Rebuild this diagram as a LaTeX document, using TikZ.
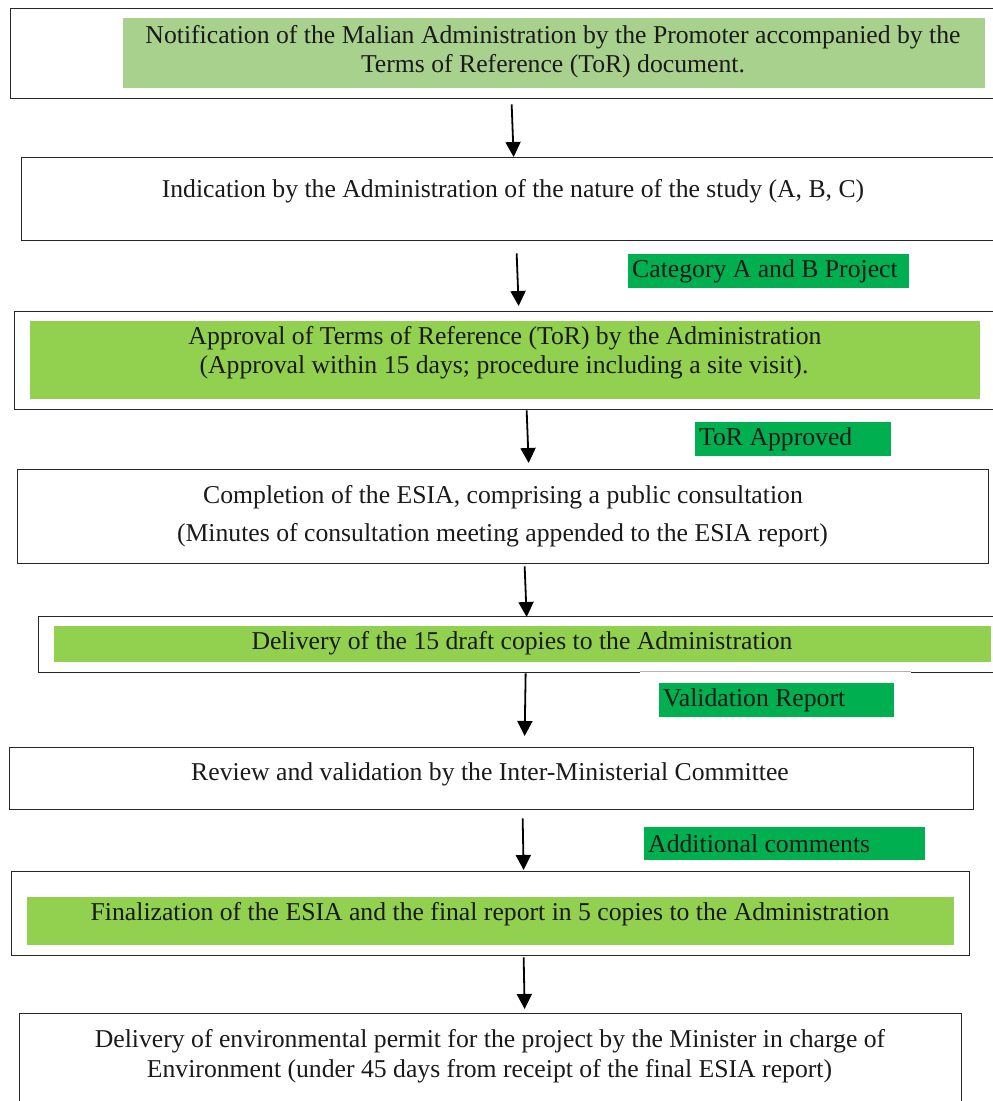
\documentclass[tikz,border=0pt]{standalone}
\usepackage{fontspec}
\setmainfont{Liberation Serif}
\usetikzlibrary{arrows.meta}
\definecolor{lgreen}{HTML}{A9D18E}
\definecolor{mgreen}{HTML}{92D050}
\definecolor{dgreen}{HTML}{00B050}
\definecolor{txt}{HTML}{1A1A1A}
\begin{document}
\begin{tikzpicture}[x=1pt,y=-1pt,
  boxnode/.style={draw=black!85,line width=1.3pt,fill=white,anchor=north west,inner sep=0pt},
  fillnode/.style={anchor=north west,inner sep=0pt},
  txtline/.style={anchor=base,inner sep=0pt,text=txt,font=\fontsize{25.7}{30}\selectfont},
  tag/.style={fill=dgreen,anchor=north west,inner sep=0pt,text=txt,font=\fontsize{25.7}{30}\selectfont},
  arr/.style={line width=1.8pt,-{Triangle[width=15pt,length=15pt]}}]
\useasboundingbox (0,0) rectangle (993,1101);
\fill[white] (0,0) rectangle (993,1101);
% boxes
\node[boxnode,minimum width=990pt,minimum height=90pt] (b1) at (10,8) {};
\node[fillnode,fill=lgreen,minimum width=862pt,minimum height=70pt] (g1) at (123,18) {};
\node[boxnode,minimum width=979pt,minimum height=83pt] (b2) at (21,157) {};
\node[boxnode,minimum width=986pt,minimum height=98pt] (b3) at (14,311) {};
\node[fillnode,fill=mgreen,minimum width=950pt,minimum height=78pt] (g3) at (30,321) {};
\node[boxnode,minimum width=971pt,minimum height=94pt] (b4) at (17,469) {};
\node[boxnode,minimum width=962pt,minimum height=56pt] (b5) at (38,616) {};
\node[fillnode,fill=mgreen,minimum width=937pt,minimum height=36pt] (g5) at (54,626) {};
\fill[white] (640,670) rectangle (911,674.5);
\draw[gray!60,line width=0.8pt] (640,671.5) -- (911,671.5);
\node[boxnode,minimum width=964pt,minimum height=62pt] (b6) at (9,747) {};
\node[boxnode,minimum width=958pt,minimum height=84pt] (b7) at (11,871) {};
\node[fillnode,fill=mgreen,minimum width=927pt,minimum height=48pt] (g7) at (27,897) {};
\node[boxnode,minimum width=942pt,minimum height=100pt] (b8) at (19,1013) {};
% texts
\node[txtline] (t1a) at (553,43) {Notification of the Malian Administration by the Promoter accompanied by the};
\node[txtline] (t1b) at (553,72) {Terms of Reference (ToR) document.};
\node[txtline] (t2) at (513,197) {Indication by the Administration of the nature of the study (A, B, C)};
\node[txtline] (t3a) at (505,344) {Approval of Terms of Reference (ToR) by the Administration};
\node[txtline] (t3b) at (504,373) {(Approval within 15 days; procedure including a site visit).};
\node[txtline] (t4a) at (503,503) {Completion of the ESIA, comprising a public consultation};
\node[txtline] (t4b) at (502.5,541) {(Minutes of consultation meeting appended to the ESIA report)};
\node[txtline] (t5) at (522,649) {Delivery of the 15 draft copies to the Administration};
\node[txtline] (t6) at (490,780) {Review and validation by the Inter-Ministerial Committee};
\node[txtline] (t7) at (490,920) {Finalization of the ESIA and the final report in 5 copies to the Administration};
\node[txtline] (t8a) at (490,1047) {Delivery of environmental permit for the project by the Minister in charge of};
\node[txtline] (t8b) at (489.5,1077) {Environment (under 45 days from receipt of the final ESIA report)};
% tags
\node[tag,minimum height=34pt] (c1) at (628,254) {\makebox[281pt][l]{\hspace{4pt}Category A and B Project}};
\node[tag,minimum height=34pt] (c2) at (695,422) {\makebox[196pt][l]{\hspace{4pt}ToR Approved}};
\node[tag,minimum height=34pt] (c3) at (659,683) {\makebox[235pt][l]{\hspace{4pt}Validation Report}};
\node[tag,minimum height=33pt] (c4) at (644,827) {\makebox[281pt][l]{\hspace{4pt}Additional comments}};
% arrows
\draw[arr] ([xshift=6pt,yshift=-5pt]b1.south) -- ([xshift=2.5pt]b2.north);
\draw[arr] ([xshift=5.5pt,yshift=-12pt]b2.south) -- ([xshift=11pt,yshift=5pt]b3.north);
\draw[arr] ([xshift=19pt]b3.south) -- ([xshift=25.5pt,yshift=6pt]b4.north);
\draw[arr] ([xshift=21.5pt,yshift=-2pt]b4.south) -- ([xshift=7pt,yshift=-1pt]b5.north);
\draw[arr] ([xshift=6pt]b5.south) -- ([xshift=33pt,yshift=11pt]b6.north);
\draw[arr] ([xshift=31pt,yshift=-8pt]b6.south) -- ([xshift=33pt,yshift=1pt]b7.north);
\draw[arr] ([xshift=33pt,yshift=-1pt]b7.south) -- ([xshift=34pt,yshift=4pt]b8.north);
\end{tikzpicture}
\end{document}
